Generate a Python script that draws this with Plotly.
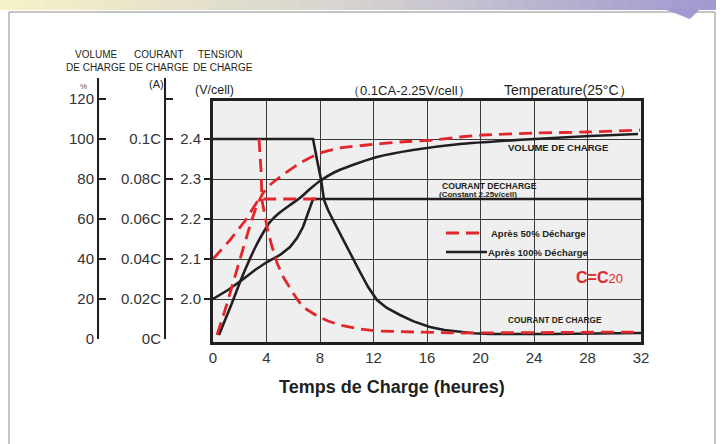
import plotly.graph_objects as go

W, H = 724, 444

# ---------------- data ----------------
hour_ticks = [0, 4, 8, 12, 16, 20, 24, 28, 32]
volt_ticks = [2.0, 2.1, 2.2, 2.3, 2.4]
volt_ticktext = ["2.0", "2.1", "2.2", "2.3", "2.4"]
vol_ticks = [0, 20, 40, 60, 80, 100, 120]
vol_ticktext = ["0", "20", "40", "60", "80", "100", "120"]
cur_ticks = [0, 0.02, 0.04, 0.06, 0.08, 0.10, 0.12]
cur_ticktext = ["0C", "0.02C", "0.04C", "0.06C", "0.08C", "0.1C", ""]

# Après 100% Décharge (black, solid)
t_vol100 = [0.45, 0.90, 1.42, 2.02, 2.62, 3.21, 3.74, 4.26, 4.86, 5.76, 6.50, 7.25, 8.0, 9.12, 10.24, 12.26, 14.95, 18.47, 24.07, 28.19, 31.78]
vol100 = [2, 9.5, 18, 28.5, 38, 46.5, 53, 58.5, 62.5, 67, 70.5, 75, 79, 83.5, 86.5, 91, 94.5, 97.5, 100, 101.5, 102.5]
t_cur100 = [0, 7.48, 7.78, 8.07, 8.30, 8.6, 8.97, 9.5, 10.02, 10.5, 10.99, 11.6, 12.26, 13.0, 13.98, 15.0, 16.22, 17.3, 18.47, 19.5, 20.7, 25.2, 32]
cur100 = [0.1, 0.1, 0.0895, 0.08, 0.0695, 0.0645, 0.0595, 0.0525, 0.046, 0.0395, 0.0335, 0.026, 0.0195, 0.0155, 0.012, 0.0088, 0.006, 0.0045, 0.0035, 0.0029, 0.0025, 0.0025, 0.003]
t_volt100 = [0, 1.12, 2.17, 3.14, 4.04, 5.01, 5.76, 6.28, 6.73, 7.10, 7.48, 32]
volt100 = [2.0, 2.0225, 2.0475, 2.0725, 2.0925, 2.11, 2.13, 2.1525, 2.18, 2.215, 2.25, 2.25]

# Après 50% Décharge (red, dashed)
t_vol50 = [0.30, 0.90, 1.50, 2.09, 2.69, 3.21, 3.51, 3.74, 4.26, 5.01, 6.50, 8.0, 9.50, 11.51, 13.98, 16.45, 18.47, 20.19, 24.22, 27.96, 31.93]
vol50 = [2, 14.5, 28, 41.5, 55, 65.5, 70, 73, 77, 81, 88, 93, 95.5, 97, 98.5, 99.5, 101, 102, 103, 103.5, 104.5]
t_cur50 = [3.44, 3.59, 3.66, 4.04, 4.4, 4.79, 5.25, 5.76, 6.25, 6.73, 7.78, 8.6, 9.50, 10.8, 12.26, 14.95, 18.47, 32]
cur50 = [0.1, 0.0845, 0.0695, 0.056, 0.0465, 0.038, 0.031, 0.0255, 0.0203, 0.016, 0.0115, 0.009, 0.007, 0.0052, 0.004, 0.0035, 0.003, 0.0035]
t_volt50 = [0, 1.27, 2.39, 3.44, 8.37]
volt50 = [2.1, 2.1475, 2.195, 2.25, 2.25]

# ---------------- styles ----------------
BLACK = "#231f20"
RED = "#e3262b"
GRID = "#3a3a3a"
FONT = "Liberation Sans, Arial, sans-serif"
DASH = "13px,7px"


def px(x):
    return x / W


def py(y):
    return 1 - y / H


fig = go.Figure()

solid = dict(color=BLACK, width=2.6)
dashed = dict(color=RED, width=2.8, dash=DASH)

fig.add_trace(go.Scatter(x=t_vol100, y=vol100, mode="lines", line=dict(**solid, shape="spline", smoothing=0.5), xaxis="x", yaxis="y2"))
fig.add_trace(go.Scatter(x=t_cur100, y=cur100, mode="lines", line=dict(**solid), xaxis="x", yaxis="y3"))
fig.add_trace(go.Scatter(x=t_volt100, y=volt100, mode="lines", line=dict(**solid), xaxis="x", yaxis="y"))
fig.add_trace(go.Scatter(x=t_vol50, y=vol50, mode="lines", line=dict(**dashed, shape="spline", smoothing=0.5), xaxis="x", yaxis="y2"))
fig.add_trace(go.Scatter(x=t_cur50, y=cur50, mode="lines", line=dict(**dashed), xaxis="x", yaxis="y3"))
fig.add_trace(go.Scatter(x=t_volt50, y=volt50, mode="lines", line=dict(**dashed), xaxis="x", yaxis="y"))
# empty traces so that the two scale axes on the left are drawn
fig.add_trace(go.Scatter(x=[None], y=[None], mode="lines", xaxis="x4", yaxis="y4", hoverinfo="skip"))
fig.add_trace(go.Scatter(x=[None], y=[None], mode="lines", xaxis="x5", yaxis="y5", hoverinfo="skip"))

tickfont = dict(family=FONT, size=15, color="#333333")

layout = dict(
    template="none",
    width=W, height=H, autosize=False,
    margin=dict(l=0, r=0, t=0, b=0, pad=0),
    paper_bgcolor="white",
    plot_bgcolor="#efefef",
    showlegend=False,
    font=dict(family=FONT, color=BLACK),
    xaxis=dict(domain=[px(213), px(641)], range=[0, 32], tickvals=hour_ticks,
               showgrid=True, gridcolor=GRID, gridwidth=1.3, zeroline=False,
               showline=True, mirror=True, linecolor=BLACK, linewidth=3,
               ticks="", tickfont=tickfont, anchor="y", automargin=False),
    yaxis=dict(domain=[py(342), py(101)], range=[1.8925, 2.495], tickvals=volt_ticks,
               ticktext=volt_ticktext, showgrid=True, gridcolor=GRID, gridwidth=1.3,
               zeroline=False, showline=True, mirror=True, linecolor=BLACK, linewidth=3,
               ticks="outside", ticklen=6, tickwidth=2, tickcolor=BLACK,
               tickfont=tickfont, anchor="x", automargin=False),
    yaxis2=dict(overlaying="y", anchor="x", range=[-1.5, 119], visible=False, automargin=False),
    yaxis3=dict(overlaying="y", anchor="x", range=[-0.0015, 0.119], visible=False, automargin=False),
    xaxis4=dict(domain=[px(99), px(99.3)], anchor="y4", visible=False, range=[0, 1], automargin=False),
    yaxis4=dict(domain=[py(339), py(78)], anchor="x4", range=[0, 130.5],
                tickvals=vol_ticks, ticktext=vol_ticktext, showgrid=False, zeroline=False,
                showline=True, linecolor=BLACK, linewidth=2, ticks="inside", ticklen=7,
                tickwidth=2, tickcolor=BLACK, tickfont=tickfont, automargin=False),
    xaxis5=dict(domain=[px(166), px(166.3)], anchor="y5", visible=False, range=[0, 1], automargin=False),
    yaxis5=dict(domain=[py(339), py(78)], anchor="x5", range=[0, 0.1305],
                tickvals=cur_ticks, ticktext=cur_ticktext, showgrid=False, zeroline=False,
                showline=True, linecolor=BLACK, linewidth=2, ticks="inside", ticklen=7,
                tickwidth=2, tickcolor=BLACK, tickfont=tickfont, automargin=False),
)
fig.update_layout(**layout)

ann = []


def text(x, y, s, size, anchor="center", color=BLACK, bold=False):
    ann.append(dict(x=px(x), y=py(y), xref="paper", yref="paper", text=("<b>%s</b>" % s) if bold else s,
                    showarrow=False, xanchor=anchor, yanchor="middle",
                    font=dict(family=FONT, size=size, color=color)))


text(96, 55, "VOLUME", 10)
text(96, 67, "DE CHARGE", 10)
text(158, 55, "COURANT", 10)
text(159, 67, "DE CHARGE", 10)
text(220, 55, "TENSION", 10)
text(223, 67, "DE CHARGE", 10)
text(83, 86, "%", 8, color="#555555")
text(156, 84, "(A)", 11)
text(214, 90, "(V/cell)", 12.5)
text(345, 90, "（0.1CA-2.25V/cell）", 13, anchor="left")
text(502, 90, "Temperature(25°C）", 14, anchor="left")
text(558, 147, "VOLUME DE CHARGE", 9.5, bold=True)
text(440, 185.5, "COURANT DECHARGE", 8.6, anchor="left", bold=True)
text(437, 194, "(Constant 2.25v/cell)", 8, anchor="left", bold=True)
text(489, 233, "Après 50% Décharge", 9.5, anchor="left", bold=True)
text(486, 252, "Après 100% Décharge", 9.5, anchor="left", bold=True)
text(555, 320, "COURANT DE CHARGE", 8.3, bold=True)
text(392, 387, "Temps de Charge (heures)", 18, bold=True)
ann.append(dict(x=px(574), y=py(277), xref="paper", yref="paper", showarrow=False,
                xanchor="left", yanchor="middle",
                text="<b>C=C</b><span style='font-size:13px'>20</span>",
                font=dict(family=FONT, size=16, color=RED)))

shapes = []
# legend sample lines
shapes.append(dict(type="line", xref="paper", yref="paper", x0=px(446), x1=px(486), y0=py(233), y1=py(233),
                   line=dict(color=RED, width=2.8, dash=DASH)))
shapes.append(dict(type="line", xref="paper", yref="paper", x0=px(446), x1=px(487), y0=py(252), y1=py(252),
                   line=dict(color=BLACK, width=2.4)))
# outer frame
shapes.append(dict(type="rect", xref="paper", yref="paper", x0=px(9), x1=px(715), y0=py(470), y1=py(12),
                   line=dict(color="#8c8c8c", width=1), fillcolor="rgba(0,0,0,0)", layer="below"))
# header gradient bar
c0 = (246, 242, 200)
c1 = (214, 210, 208)
c2 = (160, 154, 208)
n = 48
x_end = 716
for i in range(n):
    f = i / (n - 1)
    if f < 0.5:
        g = f / 0.5
        c = tuple(int(c0[k] + (c1[k] - c0[k]) * g) for k in range(3))
    else:
        g = (f - 0.5) / 0.5
        c = tuple(int(c1[k] + (c2[k] - c1[k]) * g) for k in range(3))
    xa = x_end * i / n
    xb = x_end * (i + 1) / n + 0.6
    shapes.append(dict(type="rect", xref="paper", yref="paper", x0=px(xa), x1=px(min(xb, x_end)),
                       y0=py(10), y1=py(0), line=dict(width=0), fillcolor="rgb(%d,%d,%d)" % c))
# speech bubble tail
shapes.append(dict(type="path", xref="paper", yref="paper",
                   path="M %f %f L %f %f L %f %f Z" % (px(664), py(9), px(700), py(9), px(690), py(19)),
                   line=dict(width=0), fillcolor="rgb(160,154,208)"))

fig.update_layout(annotations=ann, shapes=shapes)

fig.write_html("out.html", config={"displayModeBar": False, "responsive": False},
               post_script="document.body.style.margin='0';")
